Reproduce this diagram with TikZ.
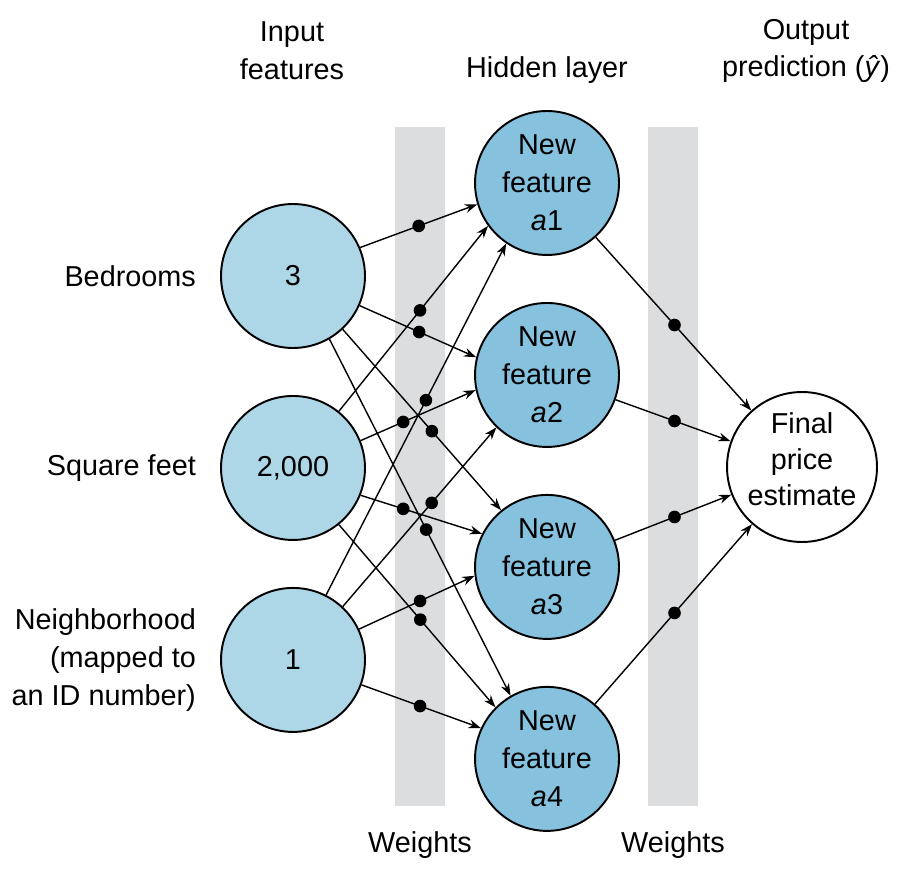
\documentclass[tikz,border=0pt]{standalone}
\usepackage{fontspec}
\setmainfont{Liberation Sans}
\usepackage{tikz}
\usetikzlibrary{calc,positioning,arrows.meta}
\definecolor{inblue}{RGB}{173,215,231}
\definecolor{hidblue}{RGB}{134,193,222}
\definecolor{bargray}{RGB}{220,221,223}
\tikzset{>={Stealth[length=7pt,width=5pt]}}

\begin{document}
\begin{tikzpicture}[x=0.02cm,y=-0.02cm,node distance=3.84cm,
    txt/.style={font=\fontsize{16.4}{21.5}\selectfont,align=center},
    innode/.style={txt,circle,draw,line width=1.1pt,fill=inblue,minimum size=2.88cm,inner sep=0pt},
    hidnode/.style={txt,circle,draw,line width=1.1pt,fill=hidblue,minimum size=2.88cm,inner sep=0pt},
    outnode/.style={circle,draw,line width=1.1pt,fill=white,minimum size=3cm,inner sep=0pt},
    wire/.style={->,line width=0.8pt}]
    \useasboundingbox (0,0) rectangle (901,874);
    % weight bars
    \fill[bargray] (395,127) rectangle (445,806);
    \fill[bargray] (648,127) rectangle (698,806);
    % layers
    \node[hidnode] (h1) at (547,183) {New\\feature\\\textit{a}1};
    \node[hidnode,below of=h1] (h2) {New\\feature\\\textit{a}2};
    \node[hidnode,below of=h2] (h3) {New\\feature\\\textit{a}3};
    \node[hidnode,below of=h3] (h4) {New\\feature\\\textit{a}4};
    \node[innode] (i1) at (293,276) {3};
    \node[innode,below of=i1] (i2) {2,000};
    \node[innode,below of=i2] (i3) {1};
    \node[outnode] (out) at (802,467) {};
    \node[txt,font=\fontsize{16.4}{20.4}\selectfont] (outtxt) at (802,459) {Final\\price\\estimate};
    % labels
    \node[txt,left=0.36cm of i1] (lbed) {Bedrooms};
    \node[txt,left=0.36cm of i2] (lsq) {Square feet};
    \node[txt,align=right,left=0.36cm of i3] (lnb) {Neighborhood\\(mapped to\\an ID number)};
    \node[txt] (tin) at (292,51) {Input\\features};
    \node[txt] (thid) at (547,70) {Hidden layer};
    \node[txt] (tout) at (806,51) {Output\\prediction (\textit{ŷ})};
    \node[txt] (w1) at (420,845) {Weights};
    \node[txt] (w2) at (673,845) {Weights};
    % input -> hidden, with weights
    \foreach \a/\sa/\b/\eb/\p in {i1/23/h1/197/0.5,i1/-24/h2/166/0.51,i1/-47/h3/129/0.563,i1/-60.5/h4/120/0.534,
                                 i2/51.5/h1/216/0.544,i2/22/h2/192/0.37,i2/-22/h3/153/0.351,i2/-51/h4/135.5/0.52,
                                 i3/63/h1/236/0.554,i3/47/h2/226.5/0.579,i3/25.5/h3/187/0.528,i3/-20/h4/155/0.49} {
        \draw[wire] (\a.\sa) -- (\b.\eb);
        \fill ($(\a.\sa)!\p!(\b.\eb)$) circle (3.6pt);
    }
    % hidden -> output
    \foreach \b in {h1,h2,h3,h4} {
        \draw[wire] (\b) -- (out);
        \fill ($(\b)!0.5!(out)$) circle (3.6pt);
    }
\end{tikzpicture}
\end{document}
